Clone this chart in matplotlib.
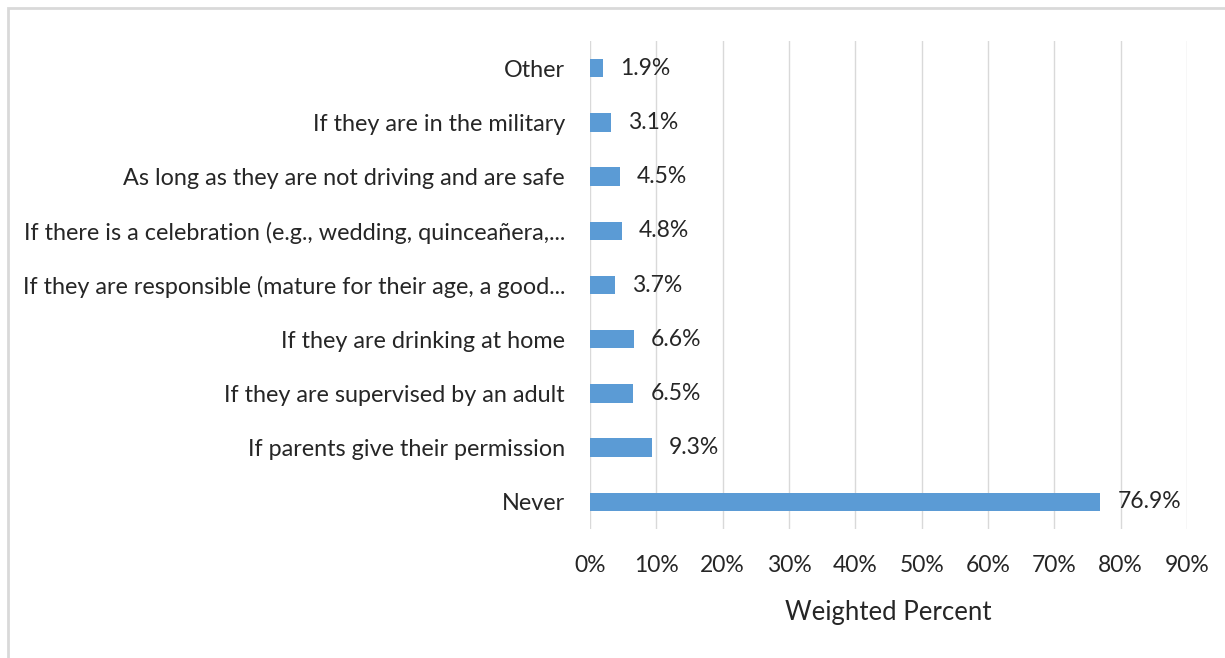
import numpy as np
import matplotlib.pyplot as plt
from matplotlib.patches import Rectangle

categories = [
    "Never",
    "If parents give their permission",
    "If they are supervised by an adult",
    "If they are drinking at home",
    "If they are responsible (mature for their age, a good...",
    "If there is a celebration (e.g., wedding, quinceañera,...",
    "As long as they are not driving and are safe",
    "If they are in the military",
    "Other",
]
values = [76.9, 9.3, 6.5, 6.6, 3.7, 4.8, 4.5, 3.1, 1.9]
xticks = [0, 10, 20, 30, 40, 50, 60, 70, 80, 90]

plt.rcParams["font.family"] = ["Lato", "DejaVu Sans"]

fig = plt.figure(figsize=(12.25, 6.58), dpi=100, facecolor="w")

# light grey frame around the chart
fig.patches.append(Rectangle((8 / 1225, -0.05), 1.2, 1 - 8 / 658 + 0.05,
                             transform=fig.transFigure, fill=False,
                             edgecolor="#d9d9d9", linewidth=2))

ax = fig.add_axes([590 / 1225, 1 - 529 / 658, 597 / 1225, 488 / 658])
y = np.arange(len(categories))
ax.barh(y, values, height=0.34, color="#5b9bd5", zorder=3)
for yi, v in zip(y, values):
    ax.text(v + 2.6, yi, f"{v:.1f}%", va="center", ha="left",
            fontsize=16.5, color="#262626")

ax.set_xlim(0, 90)
ax.set_ylim(-0.5, len(categories) - 0.5)
ax.set_yticks(y)
ax.set_yticklabels(categories, fontsize=16.8, color="#262626")
ax.set_xticks(xticks)
ax.set_xticklabels([f"{t}%" for t in xticks], fontsize=16.5, color="#262626")
ax.tick_params(axis="y", length=0, pad=18)
ax.tick_params(axis="x", length=0, pad=19)
for s in ax.spines.values():
    s.set_visible(False)
ax.grid(axis="x", color="#d9d9d9", linewidth=1, zorder=0)
ax.set_xlabel("Weighted Percent", fontsize=18.5, color="#262626", labelpad=17)

fig.savefig("out.png", dpi=100)
